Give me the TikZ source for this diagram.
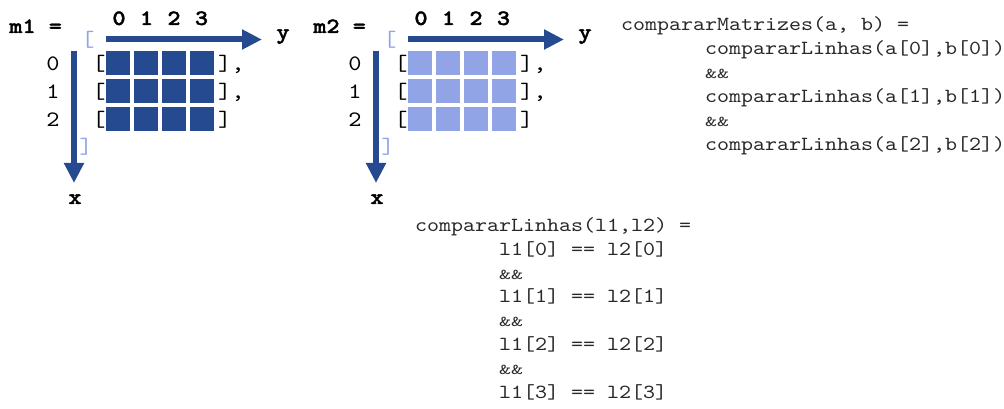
\documentclass[tikz,border=0pt]{standalone}
\usepackage{fontspec}
\newfontfamily\cour{lmmono10-regular.otf}[FakeStretch=1.143, BoldFont=lmmonolt10-bold.otf, BoldFeatures={FakeStretch=1.143, FakeBold=1.5}]
\usetikzlibrary{arrows.meta}
\definecolor{dblue}{RGB}{38,74,143}
\definecolor{lblue}{RGB}{145,164,230}
\definecolor{codegray}{RGB}{40,40,40}
\newcommand{\ampamp}{\scalebox{1}[0.75]{\&\&}}
\begin{document}
\begin{tikzpicture}[x=1pt,y=-1pt,
  mat/.style={font=\cour\fontsize{22}{26}\selectfont, inner sep=0pt},
  matb/.style={font=\cour\bfseries\fontsize{22}{26}\selectfont, inner sep=0pt},
  lbr/.style={mat, text=lblue},
  code/.style={font=\cour\fontsize{20}{24}\selectfont, text=codegray, inner sep=0pt, anchor=base west},
  axisarrow/.style={draw=dblue, line width=6pt, -{Triangle[length=20pt,width=19pt]}},
]
\useasboundingbox (0,0) rectangle (1004,409);

\foreach \i/\ox/\col/\lab/\lx in {1/0/dblue/m1/9, 2/302/lblue/m2/313}{
  % label
  \node[matb, anchor=base west] (lab\i) at (\lx,33) {\lab\ =};
  % column indices
  \foreach \c in {0,...,3}{
    \node[matb, anchor=base] (col\i\c) at ({\ox+119+27.5*\c},25) {\c};
  }
  % cells
  \foreach \r in {0,1,2}{
    \foreach \c in {0,...,3}{
      \fill[\col] ({\ox+106+28*\c},{51+28*\r}) rectangle ++(24,24);
    }
    \node[mat, anchor=base] (row\i\r) at ({\ox+53},{71+28*\r}) {\r};
    \node[mat, anchor=base] (ob\i\r) at ({\ox+99},{71+28*\r}) {[};
  }
  \node[mat, anchor=base west] (cb\i0) at ({\ox+218},71) {],};
  \node[mat, anchor=base west] (cb\i1) at ({\ox+218},99) {],};
  \node[mat, anchor=base west] (cb\i2) at ({\ox+218},127) {]};
  % outer light brackets
  \node[lbr] (lo\i) at ({\ox+88},39.5) {[};
  \node[lbr] (lc\i) at ({\ox+86},147) {]};
  % axes
  \coordinate (hs\i) at ({\ox+106},39.5);
  \coordinate (he\i) at ({\ox+262},39.5);
  \coordinate (vs\i) at ({\ox+74},51);
  \coordinate (ve\i) at ({\ox+74},183);
  \draw[axisarrow] (hs\i) -- (he\i);
  \draw[axisarrow] (vs\i) -- (ve\i);
  \node[matb, anchor=base] (y\i) at ({\ox+283},39) {y};
  \node[matb, anchor=base] (x\i) at ({\ox+75},204) {x};
}

% code: compararMatrizes
\node[code] (m0) at (621,31) {compararMatrizes(a, b) =};
\node[code] (m1) at (705,55) {compararLinhas(a[0],b[0])};
\node[code] (m2) at (705,79) {\ampamp};
\node[code] (m3) at (705,103) {compararLinhas(a[1],b[1])};
\node[code] (m4) at (705,127) {\ampamp};
\node[code] (m5) at (705,151) {compararLinhas(a[2],b[2])};

% code: compararLinhas
\node[code] (l0) at (415,231.5) {compararLinhas(l1,l2) =};
\node[code] (l1) at (499,255.3) {l1[0] == l2[0]};
\node[code] (l2) at (499,279.1) {\ampamp};
\node[code] (l3) at (499,302.9) {l1[1] == l2[1]};
\node[code] (l4) at (499,326.7) {\ampamp};
\node[code] (l5) at (499,350.5) {l1[2] == l2[2]};
\node[code] (l6) at (499,374.3) {\ampamp};
\node[code] (l7) at (499,398.1) {l1[3] == l2[3]};
\end{tikzpicture}
\end{document}
